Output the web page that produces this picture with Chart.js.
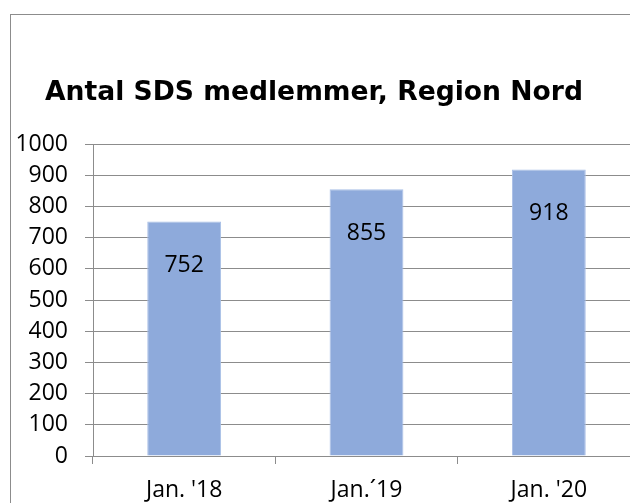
<!DOCTYPE html>
<html>
<head>
<meta charset="utf-8">
<script src="https://cdn.jsdelivr.net/npm/chart.js@4"></script>
<style>
    html, body { margin: 0; padding: 0; background: #fff; overflow: hidden; }
    #wrap { position: relative; width: 645px; height: 503px; }
    #frame {
        position: absolute; left: 10px; top: 14px; width: 700px; height: 600px;
        border: 1px solid #8c8c8c; pointer-events: none;
    }
</style>
</head>
<body>
<div id="wrap">
    <canvas id="sdsChart" width="645" height="503"></canvas>
    <div id="frame"></div>
</div>
<script>
const chartTitle = 'Antal SDS medlemmer, Region Nord';
const categories = ["Jan. '18", 'Jan.´19', "Jan. '20"];
const members = [752, 855, 918];
const yTicks = [0, 100, 200, 300, 400, 500, 600, 700, 800, 900, 1000];

const labelFont = { family: "'Open Sans', 'Liberation Sans', sans-serif", size: 23 };

// titel tegnes selv, så den kan placeres frit
const titlePlugin = {
    id: 'titleText',
    afterDraw(chart) {
        const ctx = chart.ctx;
        ctx.save();
        ctx.font = "bold 26.6px 'DejaVu Sans', Verdana, sans-serif";
        ctx.fillStyle = '#000';
        ctx.textAlign = 'center';
        ctx.textBaseline = 'middle';
        ctx.fillText(chartTitle, 314, 93);
        ctx.restore();
    }
};

// værdier inde i søjlerne, lidt under toppen
const valuePlugin = {
    id: 'barValues',
    afterDatasetsDraw(chart) {
        const ctx = chart.ctx;
        const meta = chart.getDatasetMeta(0);
        ctx.save();
        ctx.font = `${labelFont.size}px ${labelFont.family}`;
        ctx.fillStyle = '#000';
        ctx.textAlign = 'center';
        ctx.textBaseline = 'middle';
        meta.data.forEach((bar, i) => {
            ctx.fillText(String(members[i]), bar.x, bar.y + 44);
        });
        ctx.restore();
    }
};

const ctx = document.getElementById('sdsChart').getContext('2d');
new Chart(ctx, {
    type: 'bar',
    data: {
        labels: categories,
        datasets: [{
            data: members,
            backgroundColor: '#8eaadb',
            borderColor: '#a9bfe6',
            borderWidth: 1,
            barPercentage: 1,
            categoryPercentage: 0.405
        }]
    },
    options: {
        responsive: false,
        animation: false,
        layout: {
            padding: { top: 144, right: 5, left: 0, bottom: 0 }
        },
        scales: {
            x: {
                afterFit(scale) { scale.height = 47; },
                grid: {
                    offset: true,
                    drawOnChartArea: false,
                    color: '#8c8c8c',
                    tickLength: 8
                },
                border: { display: false },
                ticks: {
                    color: '#000',
                    font: labelFont,
                    padding: 13,
                    maxRotation: 0
                }
            },
            y: {
                min: 0,
                max: 1000,
                afterFit(scale) { scale.width = 93; },
                afterBuildTicks(scale) {
                    scale.ticks = yTicks.map(v => ({ value: v }));
                },
                grid: {
                    color: '#8c8c8c',
                    tickLength: 8
                },
                border: { display: true, color: '#8c8c8c' },
                ticks: {
                    color: '#000',
                    font: labelFont,
                    padding: 17,
                    callback: (value) => String(value)
                }
            }
        },
        plugins: {
            legend: { display: false },
            tooltip: { enabled: false }
        }
    },
    plugins: [titlePlugin, valuePlugin]
});
</script>
</body>
</html>
